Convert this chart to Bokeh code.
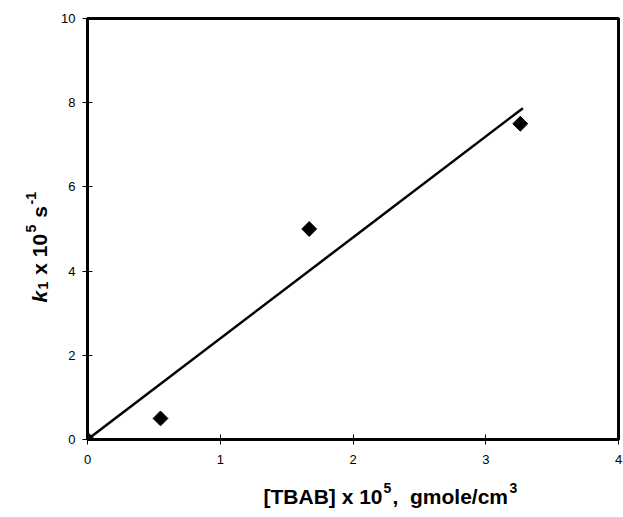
from bokeh.plotting import figure
from bokeh.models import Range1d, FixedTicker, Label
from bokeh.layouts import column, row
from bokeh.embed import file_html
from bokeh.resources import INLINE
import math

# data
tbab = [0.0, 0.55, 1.67, 3.26]
k1 = [0.0, 0.5, 5.0, 7.5]
fit_x = [0.0, 3.28]
fit_y = [0.0, 7.87]
x_ticks = [0, 1, 2, 3, 4]
y_ticks = [0, 2, 4, 6, 8, 10]

FW, FH = 531, 421
YW = 52            # width of the y-title strip
L, T = 87 - YW, 18
PB = 31            # bottom border of main plot (tick labels)
PH = T + FH + PB   # 470
XH = 509 - PH      # height of the x-title strip
TOTW = YW + L + FW + 5

p = figure(frame_width=FW, frame_height=FH, output_backend="svg", toolbar_location=None,
           x_range=Range1d(0, 4), y_range=Range1d(0, 10),
           min_border_left=L, min_border_top=T, min_border_right=5,
           min_border_bottom=PB)
p.background_fill_color = "white"
p.border_fill_color = "white"
p.grid.visible = False
p.outline_line_color = "black"
p.outline_line_width = 3
p.outline_line_alpha = 1

for ax in (p.xaxis[0], p.yaxis[0]):
    ax.axis_line_width = 3
    ax.axis_line_color = "black"
    ax.major_tick_in = 5
    ax.major_tick_out = 5
    ax.major_tick_line_width = 1
    ax.minor_tick_line_color = None
    ax.major_label_text_font = "Liberation Sans"
    ax.major_label_text_font_size = "13px"
    ax.major_label_text_color = "black"
p.xaxis.ticker = FixedTicker(ticks=x_ticks)
p.yaxis.ticker = FixedTicker(ticks=y_ticks)
p.xaxis.major_label_standoff = 10
p.yaxis.major_label_standoff = 7

p.line(fit_x, fit_y, line_color="black", line_width=2.5)
p.scatter(tbab, k1, marker="square", angle=math.pi / 4, size=10.5,
          fill_color="black", line_color="black")


def strip(w, h):
    f = figure(frame_width=w, frame_height=h, output_backend="svg", toolbar_location=None,
               x_range=Range1d(0, w), y_range=Range1d(0, h),
               x_axis_location=None, y_axis_location=None,
               min_border=0, min_border_left=0, min_border_right=0,
               min_border_top=0, min_border_bottom=0)
    f.grid.visible = False
    f.outline_line_color = None
    f.background_fill_color = "white"
    f.border_fill_color = "white"
    return f


yfig = strip(YW, PH)
xfig = strip(TOTW, XH)

F = "Liberation Sans"
NB = "\u00a0"
def lab(fig, txt, px, py, size, style="bold", angle=0.0):
    fig.add_layout(Label(x=px, y=py, x_units="screen", y_units="screen",
                         text=txt, text_font=F,
                         text_font_size=f"{size}px", text_font_style=style,
                         text_color="black", angle=angle,
                         text_align="left", text_baseline="alphabetic"))

# x axis title: [TBAB] x 10^5,  gmole/cm^3   (picture coords -> strip coords)
def xl(txt, px, py, size, style="bold"):
    lab(xfig, txt, px, XH - (py - PH), size, style)

bx, by = 263, 496
xl("[TBAB] x 10", bx, by, 21)
xl("5", bx + 120, by - 9, 14)
xl("," + NB + NB + "gmole/cm", bx + 129, by, 21)
xl("3", bx + 246, by - 9, 14)

# y axis title: k1 x 10^5 s^-1 (rotated)
def yl(txt, px, py, size, style="bold"):
    lab(yfig, txt, px, PH - py, size, style, math.pi / 2)

yx = 39
yl("k", yx, 284, 21, "bold italic")
yl("1", yx + 3, 271, 14)
yl(NB + "x 10", yx, 262, 21)
yl("5", yx - 9, 214, 14)
yl(NB + "s", yx, 205, 21)
yl("-1", yx - 9, 186, 14)

layout = column(row(yfig, p, spacing=0), xfig, spacing=0)
open("out.html", "w").write(file_html(layout, INLINE))
